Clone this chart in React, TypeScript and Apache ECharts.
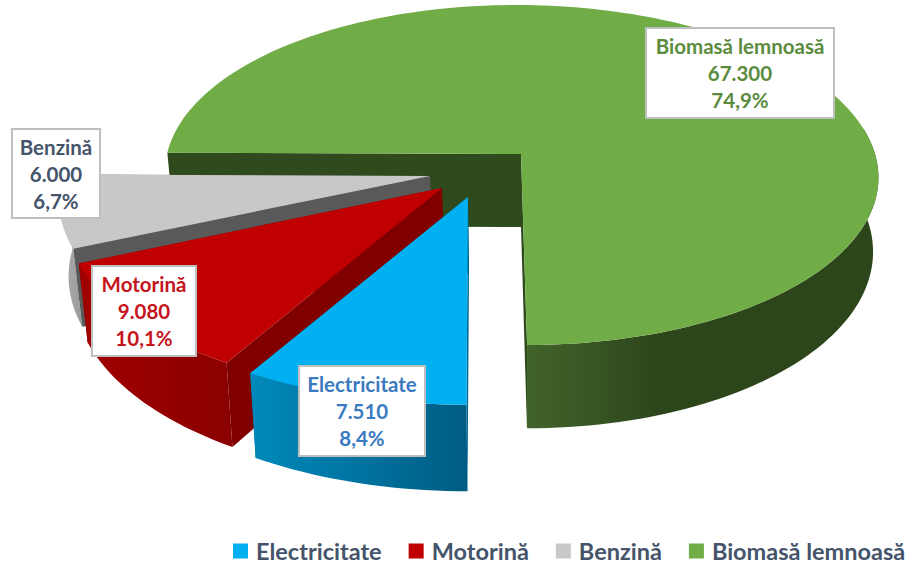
import React, { useEffect, useRef } from "react";
import * as echarts from "echarts";

const categories = ["Electricitate", "Motorină", "Benzină", "Biomasă lemnoasă"];
const values = [7510, 9080, 6000, 67300];
const FONT = "Lato, Carlito, sans-serif";

// look of each slice, same order as categories
const topColors = ["#00b0f0", "#c00000", "#c8c8c8", "#70ad47"];
const wallColors = ["#006a94", "#800000", "#595959", "#2f4a1c"];
const rimLeft = ["#008abb", "#a00000", "#b4b4b4", "#41642a"];
const rimMid = ["#0073a0", "#960000", "#a6a6a6", "#2d451b"];
const rimRight = ["#005c82", "#8a0000", "#989898", "#2d451b"];
const rimMidStop = [0.5, 0.5, 0.5, 0.38];
const textColors = ["#3a7abf", "#c5141c", "#44546a", "#5b8c3e"];

// disc projection
const X0 = 521, Y0 = 154, A = 354, B = 167.4, C = 5.3, K = 0.1235, DEPTH = 73;
const SHRINK_LEFT = 0.98, SHRINK_RIGHT = 0.985;
const offU = [-0.149, -0.2207, -0.255, 0];
const offV = [0.249, 0.198, 0.129, 0];
const radU = [1.05, 1.03, 1.02, 1];
const radV = [1.015, 1.02, 1, 1];
const boxes = [
  [299, 366, 126, 90],
  [92, 266, 104, 90],
  [12, 129, 88, 89],
  [646, 28, 188, 90],
];
const drawOrder = [3, 2, 1, 0];

const total = values.reduce((a, b) => a + b, 0);
const rad = (d: number) => (d * Math.PI) / 180;

function project(u: number, v: number, low: boolean): number[] {
  const s = 1 / (1 - K * v);
  let x = X0 + (u * A + v * C) * s;
  let y = Y0 + v * B * s;
  if (low) {
    x = X0 + (x - X0) * (x < X0 ? SHRINK_LEFT : SHRINK_RIGHT);
    y += DEPTH * s;
  }
  return [x, y];
}

function sliceAngles(i: number): number[] {
  let a = 180;
  for (let j = 0; j < i; j++) a += (values[j] / total) * 360;
  return [a, a + (values[i] / total) * 360];
}

function rimPoint(i: number, deg: number, low: boolean) {
  return project(offU[i] + radU[i] * Math.sin(rad(deg)), offV[i] - radV[i] * Math.cos(rad(deg)), low);
}

function polygon(points: number[][], fill: any) {
  return { type: "polygon", shape: { points }, style: { fill, stroke: "none" } };
}

function fmtValue(v: number) {
  return String(v).replace(/\B(?=(\d{3})+$)/g, ".");
}
function fmtPct(v: number) {
  return ((v / total) * 100).toFixed(1).replace(".", ",") + "%";
}

function renderSlice(i: number) {
  const [start, end] = sliceAngles(i);
  const arc: number[] = [];
  const steps = Math.ceil((end - start) / 1.5);
  for (let n = 0; n <= steps; n++) arc.push(start + ((end - start) * n) / steps);

  const apexTop = project(offU[i], offV[i], false);
  const apexLow = project(offU[i], offV[i], true);
  const wall = (deg: number) =>
    polygon([apexTop, rimPoint(i, deg, false), rimPoint(i, deg, true), apexLow], wallColors[i]);

  const rimArc = end > 440 ? arc.filter((d) => d > 440) : arc;
  const rimPts = [
    ...rimArc.map((d) => rimPoint(i, d, false)),
    ...rimArc.slice().reverse().map((d) => rimPoint(i, d, true)),
  ];
  const rimFill = {
    type: "linear", x: 0, y: 0, x2: 1, y2: 0, global: false,
    colorStops: [
      { offset: 0, color: rimLeft[i] },
      { offset: rimMidStop[i], color: rimMid[i] },
      { offset: 1, color: rimRight[i] },
    ],
  };

  const top = [apexTop, ...arc.map((d) => rimPoint(i, d, false))];
  const [bx, by, bw, bh] = boxes[i];
  const lines = [categories[i], fmtValue(values[i]), fmtPct(values[i])];
  const texts = lines.map((t, n) => ({
    type: "text",
    style: {
      x: bx + bw / 2,
      y: by + bh / 2 + (n - 1) * 27,
      text: t,
      align: "center",
      verticalAlign: "middle",
      fill: textColors[i],
      font: `bold 20.5px ${FONT}`,
    },
  }));

  return {
    type: "group",
    children: [
      wall(end),
      polygon(rimPts, rimFill),
      wall(start),
      polygon(top, topColors[i]),
      {
        type: "rect",
        shape: { x: bx, y: by, width: bw, height: bh },
        style: { fill: "#ffffff", stroke: "#bfbfbf", lineWidth: 2 },
      },
      ...texts,
    ],
  };
}

export default function App() {
  const ref = useRef<HTMLDivElement>(null);
  useEffect(() => {
    const chart = echarts.init(ref.current!, null, { renderer: "svg" });
    chart.setOption({
      animation: false,
      backgroundColor: "#ffffff",
      legend: {
        data: categories,
        left: 233,
        top: 539,
        padding: 0,
        width: 760,
        icon: "rect",
        itemWidth: 15,
        itemHeight: 15,
        itemGap: 27,
        textStyle: {
          color: "#44546a",
          fontFamily: FONT,
          fontWeight: "bold",
          fontSize: 23.5,
          padding: [0, 0, 0, 3],
        },
      },
      series: drawOrder.map((i) => ({
        type: "custom",
        name: categories[i],
        coordinateSystem: "none",
        itemStyle: { color: topColors[i] },
        data: [[values[i]]],
        renderItem: () => renderSlice(i),
      })),
    });
    return () => chart.dispose();
  }, []);
  return <div ref={ref} style={{ position: "absolute", left: 0, top: 0, width: 907, height: 565 }} />;
}
